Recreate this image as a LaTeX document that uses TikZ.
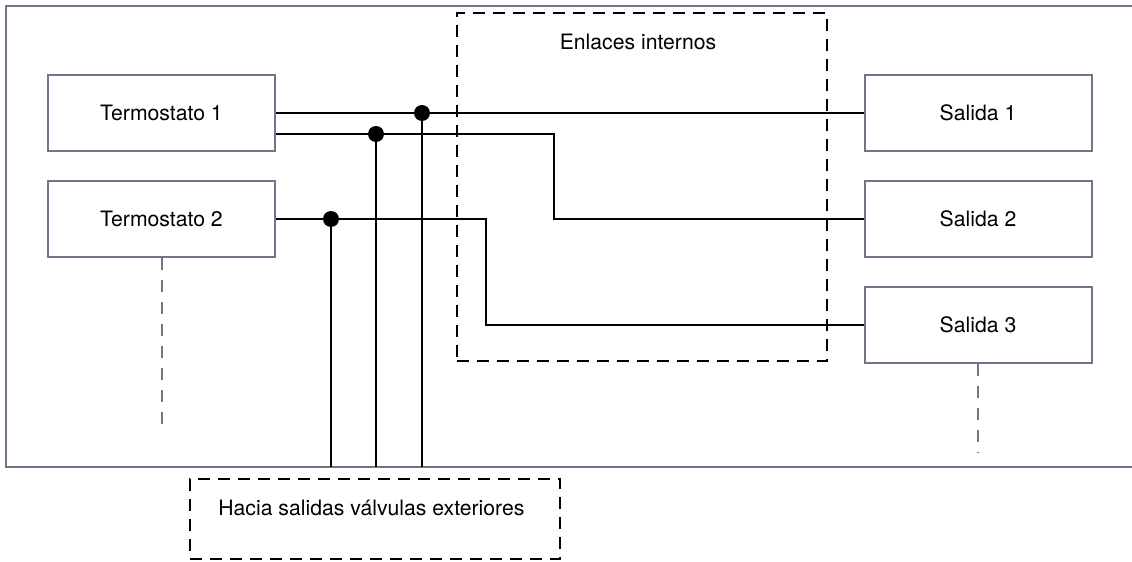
\documentclass[tikz,border=0pt]{standalone}
\usepackage{fontspec}
\setmainfont{TeX Gyre Heros}
\usetikzlibrary{calc,positioning}
\definecolor{framegray}{RGB}{118,114,135}
\newcommand{\FrameBottom}{466.5}
\newcommand{\BlockW}{113.5pt}
\newcommand{\BlockH}{38pt}

\begin{document}
\begin{tikzpicture}[x=0.5pt,y=-0.5pt,
  txt/.style={font=\fontsize{10.6}{12.7}\selectfont},
  block/.style={draw=framegray, line width=1pt, minimum width=\BlockW, minimum height=\BlockH, txt},
  zone/.style={draw=black, line width=1pt, dash pattern=on 6pt off 4pt, inner sep=0pt},
  wire/.style={line width=1pt},
  tap/.style={circle, fill=black, inner sep=0pt, minimum size=8pt},
  trail/.style={draw=framegray, line width=1pt, dash pattern=on 6pt off 5pt}
]
\useasboundingbox (0,0) rectangle (1132,562);

% ----- Outer frame -----
\draw[framegray, line width=1pt] (5.5,6) rectangle (1140,\FrameBottom);
\coordinate (fb) at (0,\FrameBottom);

% ----- Zones -----
\node[zone, minimum width=185pt, minimum height=174pt] (enl) at (642,187) {};
\node[txt] (enltxt) at (638,42) {Enlaces internos};

\node[zone, minimum width=185pt, minimum height=40pt] (hacia) at (375,519) {};
\node[txt, anchor=west, inner sep=0pt] (haciatxt) at (218,508) {Hacia salidas válvulas exteriores};

% ----- Thermostats and outputs -----
\node[block] (t1) at (161.5,113) {Termostato 1};
\node[block] (t2) at (161.5,219) {Termostato 2};
\node[block] (s1) at (978,113) {Salida 1};
\node[block] (s2) at (978,219) {Salida 2};
\node[block] (s3) at (978,324.5) {Salida 3};

% ----- Internal links -----
\coordinate (t1lo) at ([yshift=-10.5pt]t1.east);
\coordinate (k1) at (554,134);
\coordinate (k2) at (486,219);
\draw[wire] (t1.east) -- (s1.west);
\draw[wire] (t1lo) -- (k1) |- (s2.west);
\draw[wire] (t2.east) -- (k2) |- (s3.west);

% ----- Taps to external valves -----
\node[tap] (d1) at (422,113) {};
\node[tap] (d2) at (376,134) {};
\node[tap] (d3) at (331,219) {};
\draw[wire] (d1.center) -- (d1 |- fb);
\draw[wire] (d2.center) -- (d2 |- fb);
\draw[wire] (d3.center) -- (d3 |- fb);

% ----- Continuation marks -----
\draw[trail] (t2.south) -- ++(0,173);
\draw[trail] (s3.south) -- ++(0,89);

\end{tikzpicture}
\end{document}
